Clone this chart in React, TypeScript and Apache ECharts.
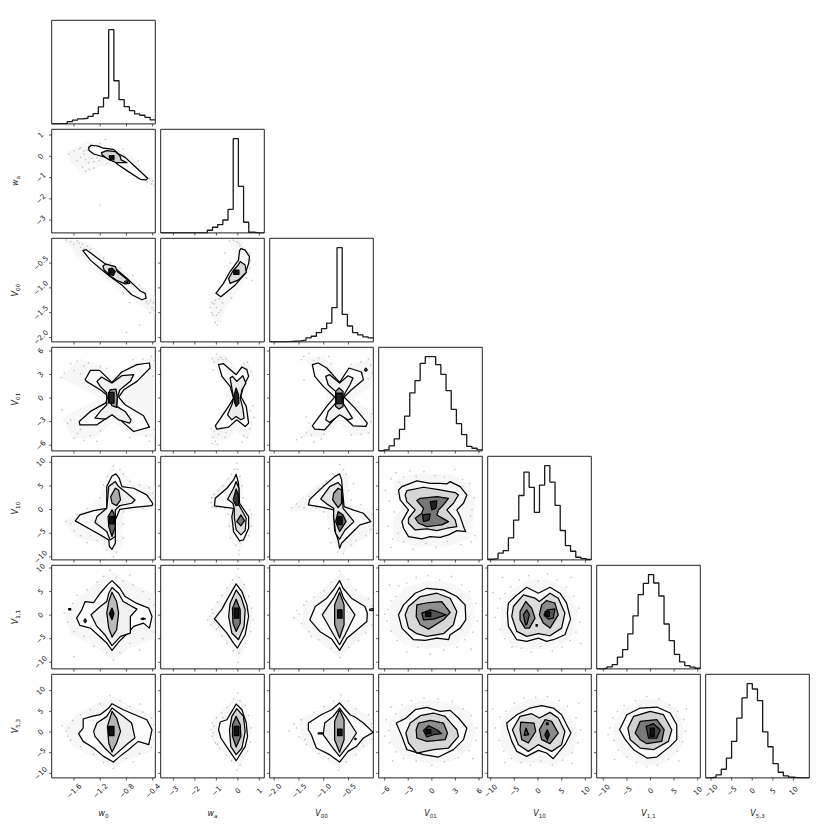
import React, { useEffect, useRef } from "react";
import * as echarts from "echarts";

type P = number[];

// axis scales, in variable order w0, wa, V00, V01, V10, V1.1, V5.3
const variableNames = ["{v|w}{s|0}", "{v|w}{s|a}", "{v|V}{s|00}", "{v|V}{s|01}", "{v|V}{s|10}", "{v|V}{s|1,1}", "{v|V}{s|5,3}"];
const xRanges = [[-1.94, -0.36], [-3.59, 1.23], [-2.09, -0.0], [-6.76, 6.42], [-10.62, 11.25], [-11.4, 10.55], [-11.3, 13.85]];
const yRanges = [[-1.94, -0.36], [-3.6, 1.27], [-2.09, -0.0], [-6.73, 6.47], [-10.63, 11.26], [-11.4, 10.57], [-11.1, 13.97]];
const tickValues = [[-1.6, -1.2, -0.8, -0.4], [-3, -2, -1, 0, 1], [-2, -1.5, -1, -0.5], [-6, -3, 0, 3, 6], [-10, -5, 0, 5, 10], [-10, -5, 0, 5, 10], [-10, -5, 0, 5, 10]];
const tickLabels = [["−1.6", "−1.2", "−0.8", "−0.4"], ["−3", "−2", "−1", "0", "1"], ["−2.0", "−1.5", "−1.0", "−0.5"], ["−6", "−3", "0", "3", "6"], ["−10", "−5", "0", "5", "10"], ["−10", "−5", "0", "5", "10"], ["−10", "−5", "0", "5", "10"]];

// marginal histograms (20 bins, relative to the tallest bin)
const hist0 = [0, 0.003, 0.004, 0.025, 0.04, 0.053, 0.06, 0.08, 0.11, 0.18, 0.275, 1, 0.458, 0.257, 0.183, 0.141, 0.106, 0.092, 0.07, 0.042];
const hist1 = [0, 0, 0, 0, 0, 0, 0, 0, 0.001, 0.028, 0.06, 0.088, 0.137, 0.25, 1, 0.493, 0.113, 0.007, 0, 0];
const hist2 = [0, 0, 0, 0.002, 0.007, 0.011, 0.018, 0.042, 0.06, 0.099, 0.141, 0.2, 0.363, 1, 0.292, 0.169, 0.099, 0.074, 0.053, 0.042];
const hist3 = [0, 0.01, 0.053, 0.127, 0.229, 0.37, 0.616, 0.746, 0.93, 1, 1, 0.915, 0.813, 0.641, 0.44, 0.289, 0.173, 0.048, 0.028, 0.01];
const hist4 = [0.007, 0.014, 0.071, 0.099, 0.234, 0.422, 0.684, 0.933, 0.77, 0.504, 0.794, 1, 0.826, 0.578, 0.312, 0.152, 0.092, 0.028, 0.014, 0.004];
const hist5 = [0, 0.007, 0.021, 0.046, 0.124, 0.205, 0.371, 0.562, 0.788, 0.908, 1, 0.912, 0.774, 0.477, 0.3, 0.155, 0.074, 0.035, 0.018, 0.007];
const hist6 = [0, 0.007, 0.032, 0.092, 0.211, 0.387, 0.634, 0.849, 1, 0.944, 0.82, 0.489, 0.331, 0.151, 0.06, 0.021, 0.007, 0, 0, 0];
const histograms = [hist0, hist1, hist2, hist3, hist4, hist5, hist6];

// contour outlines, named contours_row_col, outermost first
const contours_1_0: P[][] = [
  [[-1.376,.42],[-1.33,.52],[-1.23,.48],[-1.15,.38],[-1,.33],[-.91,.09],[-.82,-.05],[-.695,-.41],[-.476,-1.03],[-.5,-1.11],[-.59,-1.08],[-.77,-.72],[-.92,-.41],[-1,-.2],[-1.15,-.02],[-1.3,.11],[-1.37,.27]],
  [[-1.18,.17],[-1.1,.27],[-.97,.22],[-.9,.02],[-.88,-.17],[-.79,-.3],[-.9,-.3],[-.97,-.28],[-1.08,-.14],[-1.17,.06]],
  [[-1.06,.03],[-.99,.03],[-.99,-.17],[-1.06,-.17]],
];
const contours_2_0: P[][] = [
  [[-1.465,-.25],[-1.414,-.23],[-1.25,-.39],[-1.1,-.54],[-.97,-.61],[-.79,-.81],[-.59,-1.06],[-.515,-1.11],[-.5,-1.21],[-.565,-1.24],[-.72,-1.14],[-.87,-.94],[-1.05,-.77],[-1.2,-.61],[-1.35,-.44]],
  [[-1.16,-.56],[-1.11,-.52],[-.97,-.57],[-.94,-.67],[-.77,-.85],[-.75,-.91],[-.82,-.92],[-.95,-.85],[-1.05,-.75],[-1.14,-.64]],
  [[-1.07,-.62],[-1.02,-.6],[-.97,-.67],[-1,-.75],[-1.07,-.72]],
  [[-.83,-.87],[-.79,-.86],[-.78,-.89],[-.82,-.9]],
];
const contours_2_1: P[][] = [
  [[.08,-.25],[.14,-.21],[.34,-.24],[.54,-.37],[.5,-.51],[.34,-.71],[-.12,-.94],[-.79,-1.18],[-1.02,-1.11],[-.67,-.91],[-.36,-.67],[.03,-.44]],
  [[.11,-.47],[.34,-.54],[.39,-.69],[.03,-.84],[-.36,-.91],[-.43,-.81],[-.2,-.64],[-.02,-.56]],
  [[-.19,-.64],[.05,-.64],[.05,-.73],[-.19,-.73]],
];
const contours_3_0: P[][] = [
  [[-1.43,2.34],[-1.35,3.53],[-1.21,3.53],[-1.02,2],[-.87,3.32],[-.64,4.26],[-.45,4.47],[-.44,3.83],[-.64,2.13],[-.84,1.06],[-.92,.13],[-.82,-.85],[-.54,-2.26],[-.45,-3.7],[-.69,-4.26],[-.84,-3.19],[-1.01,-1.7],[-1.1,-2.55],[-1.25,-3.4],[-1.51,-3.4],[-1.52,-2.98],[-1.35,-1.7],[-1.12,-.64],[-1.07,.21],[-1.2,1.06],[-1.41,2.13]],
  [[-1.25,2.13],[-1.18,2.68],[-1.02,1.91],[-.87,2.85],[-.69,2.98],[-.74,2.13],[-.9,1.06],[-.94,0],[-.95,-1.06],[-.82,-1.7],[-.73,-2.77],[-.75,-3.19],[-.92,-2.77],[-1.02,-2.13],[-1.12,-2.68],[-1.28,-2.55],[-1.2,-1.7],[-1.1,-.85],[-1.1,.64],[-1.2,1.49]],
  [[-1.05,1.06],[-.96,1.15],[-.94,.21],[-.95,-1.19],[-1.02,-.98],[-1.09,0]],
  [[-1.07,.72],[-.99,.72],[-.99,-.64],[-1.07,-.64]],
];
const contours_3_1: P[][] = [
  [[-.9,4.26],[-.67,4.38],[-.08,2.98],[.19,3.96],[.42,3.62],[.5,2.77],[.26,1.49],[.14,.21],[.39,-1.06],[.5,-3.19],[.34,-3.62],[-.05,-2.77],[-.43,-3.7],[-.98,-3.96],[-1.05,-3.53],[-.43,-1.06],[-.2,0],[-.36,1.49],[-.74,2.77]],
  [[-.36,2.55],[-.25,2.77],[-.05,2.13],[.23,2.85],[.37,1.91],[.19,1.06],[.11,0],[.23,-1.28],[.29,-2.55],[.14,-2.77],[-.08,-2.34],[-.28,-2.77],[-.48,-2.13],[-.28,-.85],[-.2,0],[-.28,1.28]],
  [[-.08,1.28],[.03,.43],[.05,-.64],[-.08,-1.06],[-.17,-.43],[-.17,.43]],
];
const contours_3_2: P[][] = [
  [[-1.23,4.26],[-1.11,4.47],[-.94,3.83],[-.68,2],[-.49,3.83],[-.24,3.32],[-.2,2.34],[-.44,1.06],[-.59,.13],[-.37,-1.28],[-.12,-3.19],[-.15,-3.62],[-.41,-3.53],[-.68,-1.91],[-.98,-4.04],[-1.18,-3.96],[-1.23,-3.53],[-.94,-1.06],[-.78,.13],[-1.01,1.49],[-1.18,2.77]],
  [[-.96,2.77],[-.88,2.98],[-.68,1.91],[-.51,2.85],[-.41,2.55],[-.47,1.7],[-.59,.43],[-.61,-.64],[-.42,-2.55],[-.51,-2.77],[-.68,-2.13],[-.88,-3.11],[-.96,-2.77],[-.91,-1.7],[-.76,-.64],[-.76,.85],[-.91,1.7]],
  [[-.69,1.28],[-.61,.85],[-.61,-1.06],[-.69,-1.4],[-.76,-1.06],[-.76,.85]],
  [[-.75,.64],[-.63,.64],[-.63,-.72],[-.75,-.72]],
  [[-.18,3.6],[-.15,3.8],[-.12,3.6],[-.15,3.4]],
];
const contours_4_0: P[][] = [
  [[-.96,7.54],[-.91,6.62],[-.87,4.86],[-.69,4.51],[-.49,3.1],[-.4,1.34],[-.41,.85],[-.69,.49],[-.9,.07],[-.97,-2.18],[-.97,-7.11],[-1.02,-8.38],[-1.06,-7.82],[-1.07,-6.41],[-1.2,-5.35],[-1.38,-3.94],[-1.58,-2.39],[-1.51,-1.13],[-1.3,-.21],[-1.1,.28],[-1.1,4.86],[-1.02,7.11]],
  [[-.97,5.92],[-.92,4.86],[-.79,3.45],[-.67,2.04],[-.72,1.34],[-.9,.85],[-.97,-.07],[-.97,-5.7],[-1.05,-6.41],[-1.1,-4.65],[-1.28,-2.75],[-1.25,-1.48],[-1.1,.28],[-1.07,4.86]],
  [[-.97,4.51],[-.92,4.15],[-.89,2.04],[-.95,.85],[-1.02,1.34],[-1.04,2.75]],
  [[-1.02,-.07],[-.99,-.77],[-.97,-3.59],[-1.02,-5.7],[-1.07,-3.59],[-1.08,-1.48]],
  [[-1.06,-1.48],[-.99,-1.48],[-.99,-3.03],[-1.06,-3.03]],
];
const contours_4_1: P[][] = [
  [[-.08,7.46],[.03,5.56],[.08,1.34],[.5,-1.48],[.5,-3.94],[.26,-6.41],[.08,-6.62],[-.2,-4.65],[-.28,-1.48],[-.2,.28],[-.82,.63],[-1.09,.77],[-1.05,2.39],[-.51,4.51],[-.2,6.27]],
  [[-.08,5.92],[.05,4.51],[.05,.99],[.39,-1.83],[.34,-4.44],[.14,-5.35],[-.08,-4.3],[-.16,-1.83],[-.17,.28],[-.23,1.34],[-.48,2.18],[-.2,4.51]],
  [[.14,-1.13],[.31,-2.32],[.14,-3.45],[-.05,-2.54]],
  [[-.08,4.37],[.05,2.75],[.03,.99],[-.09,.85],[-.22,2.04]],
];
const contours_4_2: P[][] = [
  [[-.68,7.54],[-.64,6.27],[-.59,.63],[-.41,-.07],[-.2,-.77],[-.05,-2.54],[-.27,-3.24],[-.44,-5],[-.64,-7.11],[-.68,-8.17],[-.71,-6.41],[-.78,-4.3],[-.8,-.07],[-1.01,.49],[-1.31,.99],[-1.28,2.18],[-1.01,4.86],[-.78,6.97]],
  [[-.71,5.7],[-.64,4.86],[-.61,.28],[-.53,-.77],[-.39,-2.54],[-.57,-4.3],[-.68,-6.27],[-.76,-5],[-.8,-1.48],[-.8,.28],[-.91,.99],[-1.06,2.25],[-.88,4.86]],
  [[-.71,4.51],[-.64,4.15],[-.64,1.34],[-.71,.42],[-.82,2.04],[-.8,3.45]],
  [[-.71,-.42],[-.61,-1.13],[-.55,-2.54],[-.68,-4.65],[-.76,-2.54]],
  [[-.73,-1.5],[-.63,-1.5],[-.63,-3.2],[-.73,-3.2]],
];
const contours_4_3: P[][] = [
  [[-4.24,4.15],[-3.81,4.86],[-1.91,6.06],[-.21,5.56],[1.06,5.56],[1.91,5.42],[2.33,5.92],[3.6,4.86],[4.45,3.1],[4.03,1.34],[3.18,-.07],[3.6,-1.48],[4.11,-3.94],[4.32,-4.65],[3.18,-4.44],[2.12,-5.35],[1.06,-5.85],[-.21,-5.7],[-1.27,-6.2],[-2.97,-5.7],[-3.6,-3.94],[-3.81,-2.54],[-2.97,-.07],[-4.03,2.04]],
  [[-3.39,3.1],[-3.18,4.01],[-1.06,4.72],[1.06,4.15],[2.97,3.59],[3.39,3.1],[2.75,1.34],[1.91,-.07],[2.97,-2.18],[3.18,-3.59],[1.91,-3.94],[.64,-4.44],[-.64,-4.08],[-2.12,-4.3],[-2.97,-2.89],[-2.97,-1.83],[-2.12,-.07],[-3.18,1.69]],
  [[-1.91,1.9],[-1.48,2.39],[.64,2.75],[2.12,2.39],[1.48,.99],[.85,-.07],[.64,-1.13],[2.12,-2.54],[1.27,-3.24],[-.64,-3.59],[-1.69,-2.89],[-2.12,-1.83],[-1.27,-.77],[-1.06,.28]],
  [[-.21,1.69],[.64,1.83],[.51,.28],[0,-.07]],
  [[-1.19,-1.13],[-.21,-.92],[-.34,-2.18],[-1.06,-2.54]],
];
const contours_5_0: P[][] = [
  [[-1.09,6.41],[-1.02,7.32],[-.9,5.7],[-.82,3.94],[-.65,2.54],[-.46,1.48],[-.41,-.28],[-.45,-2.75],[-.54,-1.69],[-.69,-2.39],[-.79,-3.94],[-.91,-5.56],[-1.02,-7.46],[-1.1,-5.92],[-1.2,-4.65],[-1.35,-2.75],[-1.51,-2.18],[-1.56,-.63],[-1.48,1.13],[-1.43,2.89],[-1.3,2.68],[-1.2,4.65]],
  [[-1.02,5.85],[-.92,4.65],[-.85,2.89],[-.64,1.27],[-.74,-.28],[-.74,-3.8],[-.89,-4.5],[-1.02,-6.48],[-1.13,-4.15],[-1.25,-2.39],[-1.34,.07],[-1.2,1.83],[-1.1,2.89],[-1.07,4.65]],
  [[-1.02,4.86],[-.95,2.89],[-.92,.42],[-.95,-3.1],[-1.02,-4.65],[-1.07,-2.75],[-1.1,.42],[-1.07,2.89]],
  [[-1.02,1.5],[-.99,.3],[-1.02,-1],[-1.06,.3]],
  [[-1.68,1.4],[-1.65,1.4],[-1.65,1.1],[-1.68,1.1]],
  [[-.58,-.77],[-.55,-.6],[-.51,-.77],[-.55,-.95]],
  [[-1.45,-1.2],[-1.43,-.8],[-1.41,-1.2],[-1.43,-1.6]],
];
const contours_5_1: P[][] = [
  [[-.08,6.62],[.19,5],[.42,2.18],[.5,-.28],[.34,-4.15],[-.02,-6.97],[-.2,-5.92],[-.51,-3.8],[-1.09,-.77],[-.74,1.27],[-.51,3.24]],
  [[-.08,5.35],[.14,3.94],[.34,1.13],[.29,-2.39],[.03,-5.21],[-.28,-3.8],[-.43,-.28],[-.36,2.54]],
  [[-.08,3.38],[.11,1.13],[.11,-1.69],[-.08,-3.45],[-.23,-1.69],[-.25,1.48]],
  [[-.17,1.48],[.05,1.48],[.05,-.63],[-.17,-.63]],
];
const contours_5_2: P[][] = [
  [[-.68,7.32],[-.61,5.7],[-.44,3.59],[-.17,1.83],[-.12,.42],[-.13,-1.34],[-.37,-3.45],[-.53,-4.86],[-.68,-7.46],[-.84,-5.07],[-1.08,-3.45],[-1.28,-.99],[-1.17,1.83],[-.94,3.59],[-.78,5.7]],
  [[-.68,5.92],[-.6,3.59],[-.37,.07],[-.57,-4.15],[-.68,-6.27],[-.8,-4.15],[-1.03,.07],[-.8,3.59]],
  [[-.68,4.86],[-.59,2.18],[-.59,-2.04],[-.68,-4.86],[-.78,-2.04],[-.78,2.18]],
  [[-.72,1.13],[-.63,1.13],[-.63,-.63],[-.72,-.63]],
  [[-.07,1.27],[-.003,1.4],[-.003,.95],[-.07,1]],
];
const contours_5_3: P[][] = [
  [[-4.24,.07],[-3.6,2.18],[-2.12,4.65],[-.64,5.7],[1.48,5.35],[3.18,3.94],[4.24,2.18],[4.32,-.99],[3.6,-2.75],[2.33,-4.15],[2.12,-5.21],[.64,-4.86],[-.85,-5.35],[-2.33,-5.21],[-3.81,-2.75]],
  [[-3.39,.07],[-2.97,1.83],[-1.48,3.94],[.64,4.65],[2.33,3.59],[3.18,.78],[2.75,-2.04],[1.48,-3.94],[-.64,-4.5],[-1.91,-3.94],[-2.97,-2.75]],
  [[-1.91,2.18],[-.42,2.68],[1.27,2.89],[2.33,.56],[1.48,-.99],[-.42,-2.96],[-1.48,-2.04],[-1.99,-.28]],
  [[-1.27,.42],[-.21,1.13],[.64,.78],[1.82,.07],[.21,-.85],[-1.06,-.99]],
  [[-.76,.63],[-.13,.63],[-.13,-.28],[-.76,-.28]],
];
const contours_5_4: P[][] = [
  [[-6.25,2.54],[-4.84,3.94],[-2.39,5.92],[.07,4.65],[2.53,5.92],[4.63,4.65],[6.04,2.54],[6.88,-.85],[5.68,-4.15],[3.23,-5.21],[1.82,-5.56],[.07,-4.86],[-2.39,-5.56],[-4.49,-5.21],[-6.25,-2.39],[-6.46,.42]],
  [[-5.19,1.83],[-3.09,4.3],[-.63,3.59],[.28,2.89],[2.53,4.65],[4.28,3.59],[5.68,.42],[4.98,-2.75],[2.53,-4.37],[.07,-3.94],[-2.39,-4.5],[-4.49,-3.45],[-5.54,-.28]],
  [[-2.6,2.89],[-1.33,1.48],[-.63,-.63],[-1.82,-2.75],[-2.74,-2.75],[-3.79,-.99],[-3.79,.78]],
  [[1.82,3.1],[3.58,2.54],[4.28,.07],[2.53,-2.75],[1.12,-1.69],[.28,.07],[.77,2.18]],
  [[-2.39,1.13],[-1.82,.07],[-2.39,-2.04],[-2.6,-2.04],[-3.09,.07]],
  [[1.96,1.13],[3.58,1.34],[3.23,-.63],[2.18,-.85],[1.26,.07]],
  [[1.5,.77],[2.4,.77],[2.4,-.28],[1.5,-.28]],
  [[-.4,-2],[-.15,-2],[-.15,-2.35],[-.4,-2.35]],
];
const contours_6_0: P[][] = [
  [[-1.07,5.81],[-1.02,6.85],[-.85,5.4],[-.67,4.19],[-.49,2.98],[-.41,.56],[-.46,-3.06],[-.62,-2.26],[-.77,-4.27],[-.9,-5.89],[-1,-7.26],[-1.15,-5.89],[-1.3,-3.87],[-1.46,-2.26],[-1.53,-.4],[-1.46,.97],[-1.46,3.15],[-1.33,3.79],[-1.2,4.19]],
  [[-1.02,5.81],[-.85,3.79],[-.72,2.18],[-.67,-1.45],[-.77,-2.66],[-1,-5.89],[-1.13,-3.87],[-1.28,-1.05],[-1.3,.16],[-1.25,2.18],[-1.1,3.79]],
  [[-1.02,5],[-.95,3.39],[-.89,.16],[-.95,-2.66],[-1.02,-4.84],[-1.07,-2.66],[-1.09,1.37]],
  [[-1.07,1.37],[-.99,1.37],[-.99,-.89],[-1.07,-.89]],
];
const contours_6_1: P[][] = [
  [[-.08,6.77],[.19,5.4],[.39,2.18],[.45,-1.05],[.34,-3.47],[-.08,-6.94],[-.43,-4.27],[-.79,-1.45],[-.9,.56],[-.82,2.42],[-.51,2.98],[-.28,5]],
  [[-.05,5.65],[.26,3.79],[.34,.16],[.19,-3.87],[-.08,-5.48],[-.33,-3.47],[-.39,.56],[-.28,3.79]],
  [[-.08,3.79],[.11,1.77],[.14,-1.05],[-.08,-3.63],[-.25,-1.05],[-.25,1.77]],
  [[-.17,1.37],[.05,1.37],[.05,-.89],[-.17,-.89]],
];
const contours_6_2: P[][] = [
  [[-.68,7.02],[-.47,4.19],[-.37,3.63],[-.2,2.18],[-.002,-.08],[-.2,-1.45],[-.34,-3.47],[-.51,-4.68],[-.68,-7.26],[-.88,-5.48],[-1.15,-3.87],[-1.25,-.65],[-1.31,.56],[-1.31,2.18],[-1.05,4.19],[-.84,5.4]],
  [[-.68,5.81],[-.51,2.98],[-.34,-.24],[-.47,-2.66],[-.68,-5.89],[-.84,-3.47],[-1.01,-.65],[-.98,2.18],[-.81,3.79]],
  [[-.68,5.4],[-.59,2.98],[-.59,-1.85],[-.68,-4.92],[-.78,-1.85],[-.78,2.58]],
  [[-.72,.73],[-.63,.73],[-.63,-.89],[-.72,-.89]],
  [[-1.11,-.2],[-1.01,-.2],[-1.01,-.45],[-1.11,-.45]],
  [[-.37,-1.55],[-.35,-1.55],[-.35,-1.85],[-.37,-1.85]],
];
const contours_6_3: P[][] = [
  [[-4.53,2.18],[-3.39,3.23],[-2.12,5.4],[-.64,5.97],[1.06,5],[2.33,5.24],[3.39,3.39],[4.45,.97],[4.03,-1.85],[2.75,-4.27],[.85,-6.05],[-1.06,-5.48],[-3.18,-4.27],[-3.81,-1.05]],
  [[-3.31,-.24],[-2.75,2.18],[-1.48,3.95],[.21,4.6],[1.69,3.79],[3.18,.56],[3.39,-1.05],[2.12,-3.87],[.21,-4.27],[-1.91,-5.08],[-2.97,-2.66]],
  [[-1.99,.56],[-1.69,2.18],[-.21,2.82],[1.48,2.18],[1.99,-.24],[1.69,-1.85],[-.64,-2.26],[-1.91,-1.45]],
  [[-1.06,.4],[-.42,1.53],[.64,.56],[1.27,-.4],[.21,-.65],[-.64,-1.21]],
  [[-.72,.56],[-.13,.56],[-.13,-.4],[-.72,-.4]],
];
const contours_6_4: P[][] = [
  [[-6.6,2.18],[-4.49,4.19],[-1.68,5.81],[.77,6.37],[3.23,5.81],[4.98,4.19],[6.04,1.77],[6.95,-.24],[5.68,-3.06],[3.23,-6.45],[1.82,-5.08],[.07,-4.44],[-2.39,-5.89],[-4.49,-4.68],[-5.54,-2.26],[-6.46,.97]],
  [[-5.4,.56],[-3.79,3.79],[-1.33,4.44],[.28,3.39],[2.53,4.76],[4.28,3.39],[5.68,.16],[4.98,-3.06],[2.88,-4.68],[.07,-3.06],[-2.04,-4.68],[-4.14,-3.06]],
  [[-3.65,2.42],[-.84,2.18],[-.49,.16],[-2.04,-2.66],[-3.44,-1.85],[-3.79,.56]],
  [[1.47,2.98],[2.88,2.58],[4.28,-.24],[2.53,-2.82],[.77,-1.85],[.28,.56]],
  [[-2.53,.97],[-1.96,-.65],[-2.95,-.81]],
  [[1.96,.56],[2.39,-.65],[1.96,-2.02],[1.47,-.65]],
  [[1.8,2.2],[2.12,2.2],[2.12,1.8],[1.8,1.8]],
];
const contours_6_5: P[][] = [
  [[-6.55,.56],[-5,4.19],[-2.18,5.81],[1.34,6.05],[4.15,4.6],[5.56,1.77],[5.56,-1.85],[4.15,-3.47],[1.34,-6.05],[-.77,-6.29],[-3.59,-4.27],[-5.35,-1.85]],
  [[-4.79,.97],[-3.59,3.79],[-.07,5],[2.75,4.19],[4.51,.56],[3.8,-2.26],[.63,-4.27],[-2.18,-3.87],[-4.3,-1.85]],
  [[-3.24,-.24],[-2.18,2.58],[1.34,2.98],[2.89,.56],[2.39,-2.26],[-.77,-2.82],[-2.18,-1.85]],
  [[-.92,1.37],[.63,2.02],[2.04,.56],[1.34,-1.45],[-.42,-1.45]],
  [[-.07,.97],[.78,.97],[.78,-1.05],[-.07,-1.05]],
];

// grey of each filled contour, same order as the outlines
const shades_1_0 = ["#fbfbfb", "#d2d2d2", "#111"];
const shades_2_0 = ["#fbfbfb", "#dcdcdc", "#111", "#fff"];
const shades_2_1 = ["#fbfbfb", "#d8d8d8", "#111"];
const shades_3_0 = ["#fdfdfd", "#f0f0f0", "#999", "#222"];
const shades_3_1 = ["#fdfdfd", "#eaeaea", "#222"];
const shades_3_2 = ["#fdfdfd", "#f2f2f2", "#aaa", "#222", "#fff"];
const shades_4_0 = ["#fbfbfb", "#efefef", "#aaa", "#666", "#111"];
const shades_4_1 = ["#fbfbfb", "#ddd", "#777", "#333"];
const shades_4_2 = ["#fbfbfb", "#e5e5e5", "#a5a5a5", "#666", "#111"];
const shades_4_3 = ["#f8f8f8", "#d6d6d6", "#777", "#222", "#333"];
const shades_5_0 = ["#fdfdfd", "#f0f0f0", "#bbb", "#111", "#111", "#fff", "#fff"];
const shades_5_1 = ["#fbfbfb", "#d8d8d8", "#777", "#111"];
const shades_5_2 = ["#fcfcfc", "#eee", "#a0a0a0", "#111", "#fff"];
const shades_5_3 = ["#fafafa", "#d8d8d8", "#8e8e8e", "#555", "#111"];
const shades_5_4 = ["#fafafa", "#ddd", "#8a8a8a", "#8a8a8a", "#555", "#555", "#111", "#111"];
const shades_6_0 = ["#fdfdfd", "#eee", "#b5b5b5", "#111"];
const shades_6_1 = ["#fbfbfb", "#d4d4d4", "#7a7a7a", "#111"];
const shades_6_2 = ["#fcfcfc", "#eee", "#aaa", "#111", "#111", "#111"];
const shades_6_3 = ["#fafafa", "#d8d8d8", "#8e8e8e", "#444", "#111"];
const shades_6_4 = ["#fafafa", "#dedede", "#8a8a8a", "#8a8a8a", "#444", "#222", "#222"];
const shades_6_5 = ["#fafafa", "#d2d2d2", "#7a7a7a", "#444", "#111"];

// faint outline of the dense part of each point cloud
const cloud_1_0: P[] = [[-1.7,.2],[-1.4,.72],[-1,.45],[-.7,-.1],[-.4,-1],[-.37,-1.38],[-.5,-1.25],[-.9,-.45],[-1.2,-.45],[-1.45,-.85],[-1.65,-.3]];
const cloud_2_0: P[] = [[-1.75,-.02],[-1.4,-.08],[-1.1,-.42],[-.7,-.8],[-.37,-1.18],[-.37,-1.55],[-.55,-1.38],[-.95,-1],[-1.3,-.65],[-1.6,-.3]];
const cloud_2_1: P[] = [[-.42,-.03],[.1,-.03],[.62,-.33],[.62,-.62],[.1,-1],[-.6,-1.42],[-.8,-1.72],[-1.25,-1.62],[-1.3,-1.2],[-.6,-.8],[0,-.4]];
const cloud_3_0: P[] = [[-1.8,2.6],[-1.5,5],[-1.2,4.2],[-1,2.6],[-.7,4.4],[-.37,5.4],[-.37,-5],[-.7,-4.8],[-1,-3],[-1.3,-5.2],[-1.62,-5.2],[-1.78,-2.5],[-1.2,0]];
const cloud_3_1: P[] = [[-1.25,5.2],[-.6,5.5],[0,3.5],[.4,5],[.65,3.5],[.35,0],[.7,-3.5],[.45,-5.5],[-.1,-4.2],[-.6,-5.5],[-1.3,-5],[-.6,-1],[-.5,1]];
const cloud_3_2: P[] = [[-1.4,5],[-1,5.4],[-.68,3],[-.35,4.5],[-.05,5],[-.02,1.5],[-.4,0],[-.02,-2],[-.02,-4.5],[-.45,-4.8],[-.68,-3],[-1,-5],[-1.45,-5],[-.95,-1],[-.95,1]];
const cloud_4_0: P[] = [[-1.05,9],[-.85,8],[-.7,5.5],[-.37,5],[-.37,.2],[-.85,-.5],[-.85,-7],[-1,-10],[-1.2,-7],[-1.55,-6],[-1.78,-2.5],[-1.4,.3],[-1.2,3]];
const cloud_4_1: P[] = [[-.05,9],[.2,6],[.2,1.5],[.65,-1.5],[.6,-5.5],[.1,-8.5],[-.3,-7],[-.45,-3],[-.4,0],[-1.25,.3],[-1.25,3],[-.6,6]];
const cloud_4_2: P[] = [[-.65,9],[-.5,7],[-.5,1],[-.02,0],[-.02,-5],[-.4,-7.5],[-.65,-9.5],[-.85,-6],[-.95,-.5],[-1.7,-.2],[-1.5,2],[-1.1,5.5],[-.85,7]];
const cloud_4_3: P[] = [[-5,6],[-2,7.6],[2.5,7.4],[5,5],[5.4,1],[5,-6],[2,-7.8],[-2,-7.8],[-4.8,-6.5],[-5,-2],[-3.8,0]];
const cloud_5_0: P[] = [[-1.2,8],[-1,9.2],[-.75,7],[-.37,4.5],[-.37,-5],[-.75,-7],[-1,-9.5],[-1.25,-7],[-1.65,-4],[-1.75,0],[-1.6,3],[-1.4,5]];
const cloud_5_1: P[] = [[-.05,9],[.4,6],[.68,1],[.6,-4],[.05,-9.5],[-.5,-6],[-1.25,-2.5],[-1.25,1],[-.7,4.5]];
const cloud_5_2: P[] = [[-.65,9],[-.35,5.5],[-.05,3],[-.03,-2.5],[-.4,-6],[-.65,-9.2],[-1,-6.5],[-1.45,-2.5],[-1.4,2],[-1,5.5]];
const cloud_5_3: P[] = [[-5.4,2],[-3.5,5.8],[-.5,7.3],[2.5,7],[5,4],[5.6,0],[4.8,-4],[2.5,-6.6],[-.5,-7.2],[-3.5,-6.4],[-5.4,-3.2]];
const cloud_5_4: P[] = [[-8,2],[-5.5,5.5],[-2,7.5],[2,7.5],[5.5,6],[8.5,1],[7.5,-4],[4,-7],[-.5,-7.2],[-5,-7],[-7.8,-3.5]];
const cloud_6_0: P[] = [[-1.2,7.5],[-1,8.6],[-.7,6],[-.37,4],[-.37,-4.5],[-.75,-6.5],[-1,-9],[-1.25,-6.5],[-1.65,-3],[-1.75,1],[-1.55,4.5]];
const cloud_6_1: P[] = [[-.05,8.5],[.4,6],[.62,1],[.55,-4],[.05,-8.8],[-.5,-6],[-1.2,-2],[-1.2,3],[-.6,6]];
const cloud_6_2: P[] = [[-.65,8.6],[-.3,5.5],[-.02,3],[-.02,-2.5],[-.4,-6],[-.65,-9],[-1,-6.5],[-1.45,-2],[-1.5,3],[-1,6]];
const cloud_6_3: P[] = [[-5.5,2.5],[-3.5,6.5],[-.5,7.8],[2.8,7],[5,4.5],[5.6,0],[4.8,-4],[2.5,-7.2],[-.5,-7.5],[-3.8,-6],[-5.2,-2.8]];
const cloud_6_4: P[] = [[-8,2],[-5.5,6],[-2,8],[1.5,8],[5.5,6.5],[8.5,0],[7.5,-4.5],[4,-8],[-.5,-7.5],[-5,-7.5],[-7.8,-3]];
const cloud_6_5: P[] = [[-8,1],[-6,5.5],[-2,8],[2.5,7.8],[5.8,5.5],[7,1],[6.5,-4],[3,-7.6],[-1,-8.2],[-5,-6.5],[-7.5,-3]];

// scattered samples outside the contours
const dots_1_0: P[] = [[-1.68,.1],[-1.6,.25],[-1.55,-.2],[-1.5,.4],[-1.47,-.5],[-1.45,.1],[-1.42,-.7],[-1.4,.3],[-1.38,-.3],[-1.35,.55],[-1.33,-.1],[-1.3,-.55],[-1.28,.15],[-1.22,-.2],[-1.2,.6],[-1.15,.3],[-1.1,-.35],[-.85,.35],[-.8,-.55],[-.62,-.2],[-.55,-.9],[-.48,-1.2],[-.45,-1.05],[-.42,-1.3],[-.4,-1.15],[-.38,-1.35],[-1.52,.35],[-1.36,.4],[-1.25,.42],[-1.45,.25],[-1.37,-.6],[-1.42,-.15],[-1.5,-.05],[-1.3,-.25],[-1.25,-.05],[-1.12,.8],[-1.2,-2.3]];
const dots_2_0: P[] = [[-1.72,-.03],[-1.65,-.07],[-1.6,-.12],[-1.55,-.05],[-1.5,-.18],[-1.47,-.12],[-1.45,-.2],[-1.4,-.16],[-1.52,-.1],[-1.35,-.22],[-1.35,-.3],[-1.15,-.4],[-1.05,-.5],[-.9,-.6],[-.7,-.75],[-.6,-.95],[-.85,-1.1],[-.75,-1.3],[-.5,-1.28],[-.47,-1.32],[-.43,-1.25],[-.41,-1.4],[-.39,-1.3],[-.38,-1.45],[-.44,-1.5],[-.37,-1.6],[-.6,-1.75],[-.8,-1.9]];
const dots_2_1: P[] = [[-.4,-.05],[-.2,-.04],[-.05,-.07],[.05,-.1],[.1,-.15],[.2,-.2],[.55,-.3],[.6,-.45],[.55,-.6],[.4,-.8],[-.3,-1.2],[-.7,-1.3],[-.85,-1.22],[-1.05,-1.25],[-1.1,-1.32],[-1,-1.4],[-1.2,-1.3],[-1.22,-1.5],[-1.15,-1.55],[-1,-1.55],[-.9,-1.5],[-1.05,-1.7],[-.95,-1.75],[-.8,-1.45],[-1.3,-1.4],[-.35,-.5],[.65,-.85],[-.6,-.3]];
const dots_3_0: P[] = [[-1.8,2.6],[-1.75,3.2],[-1.65,4.4],[-1.6,3.5],[-1.55,4.7],[-1.5,3.1],[-1.45,4.1],[-1.38,4.5],[-1.2,4],[-1.1,3.8],[-.7,4.9],[-.55,5],[-.42,5.3],[-.38,4.8],[-.4,2.8],[-.5,-4.8],[-.45,-5.5],[-.38,-4],[-.75,-5],[-1.2,-4.2],[-1.35,-4.8],[-1.45,-5.4],[-1.55,-4.5],[-1.6,-5.1],[-1.7,-3.2],[-1.65,-2.8],[-1.5,-4],[-1.25,-5.5],[-1.78,-1.5]];
const dots_3_1: P[] = [[-1.2,5],[-1.1,4.6],[-1,5.6],[-.9,4.9],[-.8,5.2],[-.7,4.9],[-.55,5],[-1.15,3.6],[-.3,3.2],[.3,4.4],[.45,4.6],[.6,3.4],[.7,-1],[.75,-2.5],[.55,-3.9],[.45,-5],[.28,-4.8],[-.6,-5],[-.9,-4.6],[-1.1,-4.2],[-1.15,-5],[-1.05,-5.5],[-1.2,-5.8],[-.95,-5.9],[-1.25,-3.9],[-.55,-4.4],[.2,-5.6],[.6,-1.6]];
const dots_3_2: P[] = [[-1.45,4.9],[-1.4,5.3],[-1.3,5.7],[-1.2,4.8],[-1.1,5.1],[-.9,5.3],[-.85,4.4],[-.45,4.3],[-.25,4.6],[-.1,5],[-.05,4.2],[-.02,3.2],[-.1,2.4],[-.03,-2],[-.05,-3],[-.1,-4.4],[-.25,-4.6],[-.45,-4.7],[-1,-4.6],[-1.25,-4.7],[-1.35,-4.4],[-1.45,-5],[-1.55,-5.3],[-1.2,-5.6],[-1.05,-5.2],[-1.3,-3.2],[-1.35,-2.4],[-1.4,2.3]];
const dots_4_0: P[] = [[-1,9.2],[-.9,8.5],[-.85,7.5],[-.75,6],[-.6,5.2],[-.45,4.6],[-.4,3.5],[-.38,2.5],[-.38,1],[-.55,.2],[-.85,-.5],[-.85,-3],[-.85,-6],[-.95,-9],[-1,-10],[-1.1,-8.5],[-1.25,-6.5],[-1.35,-5.5],[-1.5,-5.5],[-1.6,-4.5],[-1.65,-3],[-1.72,-2.5],[-1.55,-1],[-1.4,.2],[-1.2,2.5],[-1.15,5.2],[-1.1,7],[-1.4,-7]];
const dots_4_1: P[] = [[-.05,9.8],[0,8.5],[.1,7],[.2,5],[.25,2.5],[.55,0],[.65,-1],[.62,-3.5],[.5,-5.5],[.1,-7],[.05,-8.6],[.05,-9.5],[-.1,-7.5],[-.35,-6],[-.4,-3.5],[-.45,-1],[-.6,.2],[-1,.4],[-1.2,.6],[-1.25,1.5],[-1.22,2.5],[-1.1,3.2],[-.9,4],[-.7,5],[-.45,6.5],[-.3,7.5],[-.15,8.5]];
const dots_4_2: P[] = [[-.68,9.5],[-.6,8.5],[-.55,7.5],[-.5,4],[-.45,2],[-.25,1],[-.02,.3],[-.02,-1],[-.05,-4.2],[-.15,-5.5],[-.35,-6.5],[-.45,-7.5],[-.6,-9.3],[-.72,-9],[-.85,-7],[-.9,-4],[-1,-.5],[-1.15,.3],[-1.4,.4],[-1.65,.4],[-1.5,.6],[-1.55,1.2],[-1.3,2.8],[-1.1,4.5],[-.95,6],[-.8,7.5],[-.4,5.5]];
const dots_4_3: P[] = [[-5.2,6.5],[-4.6,7.8],[-4.2,5.8],[-3.6,6.9],[-2.8,8.2],[-2,7],[-1,8],[.4,7.2],[1.6,6.9],[2.9,8.5],[3.9,6.4],[4.8,5.5],[5.4,2.5],[5.1,0],[4.9,-1.4],[5.5,-5.5],[5,-6.8],[3.7,-7.4],[2,-6.7],[.5,-8],[-.7,-7.2],[-2.4,-8.4],[-3.6,-6.8],[-5,-6.2],[-5.2,-8],[-4.3,-5],[-5.6,-3.5],[-4.8,-.5],[-5.4,1.8],[-5.9,4]];
const dots_5_0: P[] = [[-1.05,9.5],[-.95,8],[-.85,7.2],[-.7,6.4],[-.55,5],[-.45,3.4],[-.38,2.2],[-.37,-1],[-.38,-3.6],[-.55,-5],[-.75,-6],[-.9,-8],[-1,-9.5],[-1.1,-8],[-1.3,-6.6],[-1.45,-4.5],[-1.6,-3.5],[-1.7,-1.5],[-1.75,.5],[-1.62,2.5],[-1.55,4.2],[-1.4,5.4],[-1.25,7],[-1.15,8.2],[-1.6,-8.8],[-.75,8.5],[-.6,-7.4]];
const dots_5_1: P[] = [[0,9.8],[.05,8],[.3,6.5],[.5,4],[.65,1.5],[.7,-1],[.6,-3.5],[.35,-6],[.05,-8],[0,-10],[-.2,-7.5],[-.5,-6],[-.75,-4.4],[-1,-3],[-1.25,-2],[-1.3,-.2],[-1.2,1.2],[-.95,2.8],[-.75,4.2],[-.5,5.8],[-.25,7.5],[-1.1,-1.4],[-1.15,.4],[-.9,-2.6],[-1.4,-1]];
const dots_5_2: P[] = [[-.68,9.4],[-.5,7.6],[-.35,5.4],[-.1,3.5],[-.03,2],[-.03,-2],[-.15,-3.8],[-.3,-5.4],[-.5,-6.8],[-.68,-9],[-.85,-7],[-1.1,-5.2],[-1.3,-3.5],[-1.45,-1.8],[-1.5,.2],[-1.4,2.2],[-1.2,3.8],[-1,5.2],[-.85,7],[-1.6,-.6],[-1.55,1],[-1.35,2.9],[-1.25,-4.5]];
const dots_5_3: P[] = [[-5.6,1.2],[-5.2,3],[-4.6,4],[-4.2,6.2],[-3.2,6.8],[-2,8],[-.5,8.4],[1,7.4],[2.5,8.2],[3.8,6.4],[4.8,5],[5.6,2.5],[5.8,-1.2],[5.2,-3.6],[4.2,-5.2],[3.2,-6.8],[1.5,-7.4],[-.2,-8.2],[-1.8,-6.8],[-3.2,-7.8],[-4.4,-5.4],[-5.2,-3.4],[-5.7,-1.2],[-6,.2],[5,-7.2],[-5.4,6.4]];
const dots_5_4: P[] = [[-8.5,1.5],[-8,3.5],[-7,4.5],[-5.8,6],[-4,7.4],[-2,8.4],[0,7.2],[2,8.8],[4,7.4],[6,6],[7.5,4],[8.6,1.5],[8.8,-1.5],[8,-3.6],[6.8,-5.4],[5,-6.8],[3,-7.6],[.5,-6.6],[-1.5,-7.8],[-3.5,-7],[-5.5,-6.8],[-7,-5],[-8,-3],[-9,-.5],[-9.5,4.8],[9,-6],[-7.5,8],[7,8]];
const dots_6_0: P[] = [[-1.05,8.8],[-.9,7.6],[-.75,6.2],[-.55,4.8],[-.42,3.4],[-.38,1.8],[-.37,-2],[-.42,-3.8],[-.6,-5.2],[-.8,-6.4],[-1,-8.8],[-1.15,-7.4],[-1.3,-5.4],[-1.5,-3.6],[-1.65,-2],[-1.72,.2],[-1.78,1.6],[-1.62,2.8],[-1.5,4.2],[-1.35,5.4],[-1.2,6.8],[-1.68,1],[-1.7,-1],[-.6,6.8],[-.7,-7.2]];
const dots_6_1: P[] = [[0,9.4],[.1,7.6],[.35,6.5],[.5,4],[.62,1],[.58,-2.4],[.45,-4.6],[.1,-8],[-.05,-9.2],[-.3,-7],[-.55,-5.6],[-.85,-4],[-1.05,-2.6],[-1.2,-1],[-1.25,.6],[-1.2,2.2],[-1,3.4],[-.75,4.6],[-.5,6],[-.2,8],[-1.1,1.4],[-1.15,-.2],[-.95,-3],[-.7,3.5]];
const dots_6_2: P[] = [[-.65,9],[-.5,7.5],[-.35,5.6],[-.1,4.2],[-.03,2],[-.03,-1.8],[-.2,-3.4],[-.35,-5.5],[-.55,-7.2],[-.7,-9.2],[-.9,-6.4],[-1.1,-5.2],[-1.35,-3],[-1.5,-1.2],[-1.55,1],[-1.45,3],[-1.2,4.8],[-1,6.2],[-.8,7.5],[-1.7,.3],[-1.6,2],[-1.38,-1.8]];
const dots_6_3: P[] = [[-5.8,3],[-5.5,.4],[-4.6,4.4],[-3.8,6.6],[-2.6,7.6],[-1,8.2],[.8,8],[2.6,7.4],[4,5.6],[5,4],[5.7,1],[5.6,-2],[4.7,-4.5],[3.4,-6.2],[1.6,-7.2],[0,-8],[-2,-7],[-3.6,-6.4],[-4.6,-4.8],[-5.4,-2.6],[-6,-1],[-5.2,6],[5.2,-6.4],[-5,-7]];
const dots_6_4: P[] = [[-9,1],[-8,3.6],[-6.8,5],[-5,7],[-3,8.2],[-.5,8.4],[2,8.6],[4.5,7.6],[6.2,6.2],[8,3.4],[9,.5],[8.4,-2.6],[7.2,-5],[5.2,-6.8],[3,-8],[.6,-7],[-1.6,-8],[-3.6,-7.4],[-5.6,-6.4],[-7.2,-4.6],[-8.2,-2],[-9.6,5.6],[8.6,7],[-7,-7.4],[7.2,-7.6]];
const dots_6_5: P[] = [[-8.6,1],[-8,3.4],[-7,5],[-5.6,6.4],[-3.2,7.6],[-.8,8.6],[1.8,8],[4,6.6],[5.8,5],[7,3],[7.4,.2],[6.8,-2.4],[5.6,-4.6],[3.8,-6.6],[1.5,-8],[-.8,-8.4],[-3,-7.4],[-5,-6],[-6.8,-4.4],[-7.8,-2],[-9,-.6],[7.6,5.6],[-7.6,-6.6],[6,-7]];

const panelContours: Record<string, [P[][], string[], P[], P[]]> = {
  "1_0": [contours_1_0, shades_1_0, cloud_1_0, dots_1_0],
  "2_0": [contours_2_0, shades_2_0, cloud_2_0, dots_2_0],
  "2_1": [contours_2_1, shades_2_1, cloud_2_1, dots_2_1],
  "3_0": [contours_3_0, shades_3_0, cloud_3_0, dots_3_0],
  "3_1": [contours_3_1, shades_3_1, cloud_3_1, dots_3_1],
  "3_2": [contours_3_2, shades_3_2, cloud_3_2, dots_3_2],
  "4_0": [contours_4_0, shades_4_0, cloud_4_0, dots_4_0],
  "4_1": [contours_4_1, shades_4_1, cloud_4_1, dots_4_1],
  "4_2": [contours_4_2, shades_4_2, cloud_4_2, dots_4_2],
  "4_3": [contours_4_3, shades_4_3, cloud_4_3, dots_4_3],
  "5_0": [contours_5_0, shades_5_0, cloud_5_0, dots_5_0],
  "5_1": [contours_5_1, shades_5_1, cloud_5_1, dots_5_1],
  "5_2": [contours_5_2, shades_5_2, cloud_5_2, dots_5_2],
  "5_3": [contours_5_3, shades_5_3, cloud_5_3, dots_5_3],
  "5_4": [contours_5_4, shades_5_4, cloud_5_4, dots_5_4],
  "6_0": [contours_6_0, shades_6_0, cloud_6_0, dots_6_0],
  "6_1": [contours_6_1, shades_6_1, cloud_6_1, dots_6_1],
  "6_2": [contours_6_2, shades_6_2, cloud_6_2, dots_6_2],
  "6_3": [contours_6_3, shades_6_3, cloud_6_3, dots_6_3],
  "6_4": [contours_6_4, shades_6_4, cloud_6_4, dots_6_4],
  "6_5": [contours_6_5, shades_6_5, cloud_6_5, dots_6_5],
};

const FONT = "DejaVu Sans";
const INK = "#222";
const PANEL_LEFT = 51.7;
const PANEL_TOP = 20.3;
const PANEL_STEP = 109;
const PANEL_SIZE = 103.6;
const TICK_LENGTH = 2.6;

const polygons = (polys: P[][], fills: string[], axis: number, z: number, stroke: string | null) => ({
  type: "custom",
  coordinateSystem: "cartesian2d",
  xAxisIndex: axis,
  yAxisIndex: axis,
  silent: true,
  z,
  encode: { x: 0, y: 1 },
  data: polys.map((poly) => poly[0]),
  renderItem: (params: any, api: any) => ({
    type: "polygon",
    shape: { points: polys[params.dataIndex].map((pt) => api.coord(pt)) },
    style: { fill: fills[params.dataIndex], stroke: stroke ?? "none", lineWidth: 1.25, lineJoin: "round" },
  }),
});

// tick marks hanging outside the panel's lower (dx=0) or left (dy=0) edge
const tickMarks = (points: P[], axis: number, dx: number, dy: number) => ({
  type: "custom",
  coordinateSystem: "cartesian2d",
  xAxisIndex: axis,
  yAxisIndex: axis,
  silent: true,
  clip: false,
  z: 4,
  encode: { x: 0, y: 1 },
  data: points,
  renderItem: (params: any, api: any) => {
    const [x, y] = api.coord([api.value(0), api.value(1)]);
    return {
      type: "line",
      shape: { x1: x, y1: y, x2: x + dx, y2: y + dy },
      style: { stroke: INK, lineWidth: 0.75 },
    };
  },
});

function buildOption() {
  const grid: any[] = [];
  const xAxis: any[] = [];
  const yAxis: any[] = [];
  const series: any[] = [];
  const rich = {
    v: { fontFamily: FONT, fontStyle: "italic", fontSize: 8, color: INK },
    s: { fontFamily: FONT, fontSize: 5.6, color: INK, padding: [4, 0, 0, 0] },
  };
  const label = (i: number, rotate: number, margin: number) => ({
    show: true,
    rotate,
    margin,
    align: "center",
    verticalAlign: "middle",
    fontFamily: FONT,
    fontSize: 7.2,
    color: INK,
    customValues: tickValues[i],
    formatter: (v: number) => tickLabels[i][tickValues[i].indexOf(v)] ?? "",
  });

  for (let row = 0; row < 7; row++) {
    for (let col = 0; col <= row; col++) {
      const index = grid.length;
      grid.push({
        show: true,
        left: PANEL_LEFT + col * PANEL_STEP,
        top: PANEL_TOP + row * PANEL_STEP,
        width: PANEL_SIZE,
        height: PANEL_SIZE,
        borderColor: INK,
        borderWidth: 1,
        backgroundColor: "#fff",
      });
      const bottom = row === 6;
      const diag = row === col;
      const yMin = diag ? 0 : yRanges[row][0];
      const yMax = diag ? 1.1 : yRanges[row][1];
      xAxis.push({
        type: "value",
        gridIndex: index,
        min: xRanges[col][0],
        max: xRanges[col][1],
        axisLine: { show: false },
        splitLine: { show: false },
        axisTick: { show: false },
        axisLabel: bottom ? label(col, 45, 13) : { show: false },
        name: bottom ? variableNames[col] : "",
        nameLocation: "middle",
        nameGap: 31,
        nameTextStyle: { rich },
      });
      yAxis.push({
        type: "value",
        gridIndex: index,
        min: yMin,
        max: yMax,
        axisLine: { show: false },
        splitLine: { show: false },
        axisTick: { show: false },
        axisLabel: !diag && col === 0 ? label(row, 45, 11) : { show: false },
        name: !diag && col === 0 ? variableNames[row] : "",
        nameLocation: "middle",
        nameGap: 31,
        nameRotate: 90,
        nameTextStyle: { rich },
      });
      series.push(tickMarks(tickValues[col].map((v) => [v, yMin]), index, 0, TICK_LENGTH));
      if (!diag) series.push(tickMarks(tickValues[row].map((v) => [xRanges[col][0], v]), index, -TICK_LENGTH, 0));
      if (diag) {
        const heights = histograms[col];
        const [a, b] = xRanges[col];
        const width = (b - a) / heights.length;
        const pts: P[] = heights.map((h, i) => [a + i * width, h]);
        pts.push([b, heights[heights.length - 1]]);
        series.push({
          type: "line",
          xAxisIndex: index,
          yAxisIndex: index,
          data: pts,
          step: "end",
          symbol: "none",
          silent: true,
          lineStyle: { color: "#1a1a1a", width: 1.3 },
        });
      } else {
        const [polys, fills, cloud, dots] = panelContours[`${row}_${col}`];
        series.push(polygons([cloud], ["#f7f7f7"], index, 1, null));
        series.push({
          type: "scatter",
          xAxisIndex: index,
          yAxisIndex: index,
          data: dots,
          symbol: "circle",
          symbolSize: 1.5,
          silent: true,
          z: 2,
          itemStyle: { color: "#b5b5b5" },
        });
        series.push(polygons(polys, fills, index, 3, "#000"));
      }
    }
  }
  return { animation: false, backgroundColor: "#fff", grid, xAxis, yAxis, series };
}

export default function App() {
  const ref = useRef<HTMLDivElement>(null);
  useEffect(() => {
    const chart = echarts.init(ref.current!, undefined, { renderer: "svg" });
    chart.setOption(buildOption() as any);
    return () => chart.dispose();
  }, []);
  return <div ref={ref} style={{ position: "absolute", left: 0, top: 0, width: 830, height: 830 }} />;
}
